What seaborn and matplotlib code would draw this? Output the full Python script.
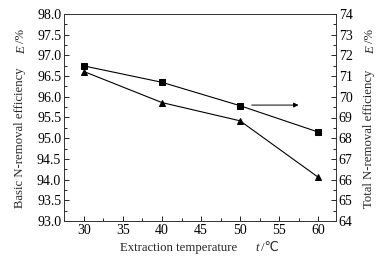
import matplotlib
matplotlib.use("Agg")
import matplotlib.pyplot as plt
import seaborn as sns
import pandas as pd
from matplotlib.ticker import MultipleLocator, FormatStrFormatter

temperature = [30, 40, 50, 60]
basic_eff = [96.61, 95.86, 95.42, 94.06]
total_eff = [71.49, 70.70, 69.57, 68.30]

sns.set_style("ticks")
plt.rcParams['font.family'] = ['Liberation Serif', 'DejaVu Sans']
plt.rcParams['font.size'] = 10

W, H = 383, 259
fig = plt.figure(figsize=(W / 100, H / 100), dpi=100)
ax = fig.add_axes([64 / W, 1 - 221 / H, (336 - 64) / W, (221 - 14) / H])
ax2 = ax.twinx()

df = pd.DataFrame({"t": temperature, "basic": basic_eff, "total": total_eff})
sns.lineplot(data=df, x="t", y="basic", ax=ax, color="black", marker="^",
             markersize=4.5, linewidth=0.8, markeredgecolor="black")
sns.lineplot(data=df, x="t", y="total", ax=ax2, color="black", marker="s",
             markersize=4.5, linewidth=0.8, markeredgecolor="black")

ax.set_xlim(27.44, 62.3)
ax.set_ylim(93.0, 98.0)
ax2.set_ylim(64, 74)

ax.xaxis.set_major_locator(MultipleLocator(5))
ax.xaxis.set_minor_locator(MultipleLocator(2.5))
ax.yaxis.set_major_locator(MultipleLocator(0.5))
ax.yaxis.set_minor_locator(MultipleLocator(0.25))
ax.yaxis.set_major_formatter(FormatStrFormatter('%.1f'))
ax2.yaxis.set_major_locator(MultipleLocator(1))
ax2.yaxis.set_minor_locator(MultipleLocator(0.5))

for a in (ax, ax2):
    a.tick_params(which='both', direction='in', width=0.6, colors='black',
                  labelsize=10, pad=2)
    a.tick_params(which='major', length=3.5)
    a.tick_params(which='minor', length=2)
    for s in a.spines.values():
        s.set_visible(True)
        s.set_linewidth(0.6)
        s.set_color('#333333')
ax.tick_params(axis='x', top=False, which='both')
ax.tick_params(axis='y', right=False, which='both')
ax.set_xlabel("")
ax.set_ylabel("")
ax2.set_ylabel("")


def P(x, y):
    return (x / W, 1 - y / H)


LS = 9.2
# x label
fig.text(*P(120, 248), "Extraction temperature", ha='left', va='center', fontsize=LS)
fig.text(*P(255, 248), "t", ha='left', va='center', fontsize=LS, style='italic')
fig.text(*P(261, 248), "/\u2103", ha='left', va='center', fontsize=LS)

# left y label
fig.text(*P(20, 208), "Basic N-removal efficiency", rotation=90, ha='center',
         va='bottom', fontsize=LS)
fig.text(*P(22, 54), "E", rotation=90, ha='center', va='bottom', fontsize=LS,
         style='italic')
fig.text(*P(21, 43), "/%", rotation=90, ha='center', va='bottom', fontsize=LS)

# right y label
fig.text(*P(369, 208), "Total N-removal efficiency", rotation=90, ha='center',
         va='bottom', fontsize=LS)
fig.text(*P(371, 54), "E", rotation=90, ha='center', va='bottom', fontsize=LS,
         style='italic')
fig.text(*P(370, 43), "/%", rotation=90, ha='center', va='bottom', fontsize=LS)

ax2.annotate("", xy=(57.5, 69.6), xytext=(51.5, 69.6),
             arrowprops=dict(arrowstyle="-|>", color="black", lw=0.7,
                             mutation_scale=7, shrinkA=0, shrinkB=0))

fig.savefig("out.png", dpi=100)
